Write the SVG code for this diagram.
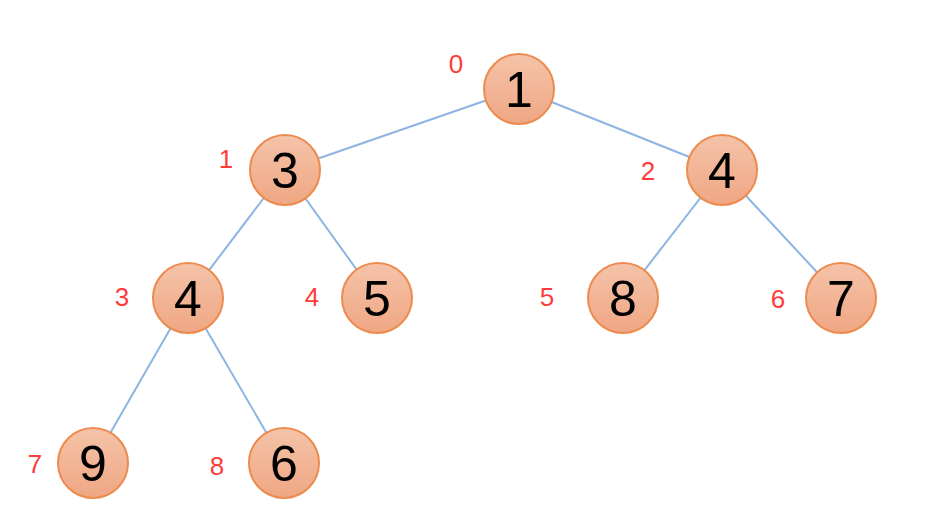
<svg xmlns="http://www.w3.org/2000/svg" width="933" height="528" viewBox="0 0 933 528">
<defs>
<linearGradient id="g" x1="0" y1="0" x2="0" y2="1">
<stop offset="0" stop-color="#F5C3A8"/>
<stop offset="1" stop-color="#EFA784"/>
</linearGradient>
<style>
.n circle{fill:url(#g);stroke:#ED8B4E;stroke-width:2}
.n text{font-family:"Liberation Sans",Arial,sans-serif;font-size:50px;fill:#000;text-anchor:middle}
.idx{font-family:"Liberation Sans",Arial,sans-serif;font-size:26px;fill:#FF3B3B;text-anchor:middle}
.e line{stroke:#8DB4E2;stroke-width:2}
</style>
</defs>
<rect width="933" height="528" fill="#fff"/>
<g id="edges" class="e">
<line x1="519" y1="89" x2="285" y2="170"/>
<line x1="519" y1="89" x2="722" y2="170"/>
<line x1="285" y1="170" x2="188" y2="298"/>
<line x1="285" y1="170" x2="377" y2="298"/>
<line x1="722" y1="170" x2="623" y2="298"/>
<line x1="722" y1="170" x2="841" y2="298"/>
<line x1="188" y1="298" x2="93" y2="463"/>
<line x1="188" y1="298" x2="284" y2="463"/>
</g>
<g id="n0" class="n"><circle cx="519" cy="89" r="35"/><text x="519" y="107">1</text></g>
<g id="n1" class="n"><circle cx="285" cy="170" r="35"/><text x="285" y="188">3</text></g>
<g id="n2" class="n"><circle cx="722" cy="170" r="35"/><text x="722" y="188">4</text></g>
<g id="n3" class="n"><circle cx="188" cy="298" r="35"/><text x="188" y="316">4</text></g>
<g id="n4" class="n"><circle cx="377" cy="298" r="35"/><text x="377" y="316">5</text></g>
<g id="n5" class="n"><circle cx="623" cy="298" r="35"/><text x="623" y="316">8</text></g>
<g id="n6" class="n"><circle cx="841" cy="298" r="35"/><text x="841" y="316">7</text></g>
<g id="n7" class="n"><circle cx="93" cy="463" r="35"/><text x="93" y="481">9</text></g>
<g id="n8" class="n"><circle cx="284" cy="463" r="35"/><text x="284" y="481">6</text></g>
<g id="labels">
<text class="idx" x="456" y="73">0</text>
<text class="idx" x="226" y="168">1</text>
<text class="idx" x="648" y="180">2</text>
<text class="idx" x="122" y="306">3</text>
<text class="idx" x="312" y="306">4</text>
<text class="idx" x="547" y="306">5</text>
<text class="idx" x="778" y="308">6</text>
<text class="idx" x="35" y="473">7</text>
<text class="idx" x="217" y="475">8</text>
</g>
</svg>
